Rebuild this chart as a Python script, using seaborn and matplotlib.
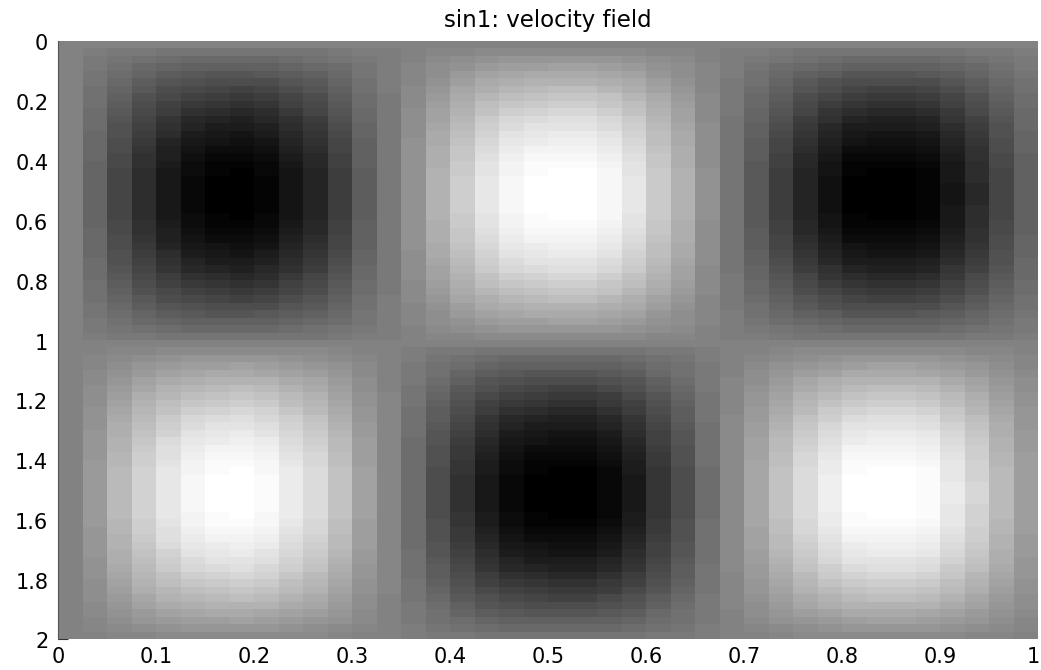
import matplotlib
matplotlib.use("Agg")

import matplotlib.pyplot as plt
import matplotlib.transforms as mtransforms
import numpy as np
import seaborn as sns

# levels: +1 is black, -1 is white in the top half
# across the columns, read along the row through the darkest blobs
column_levels = [
    0.00, 0.20, 0.45, 0.64, 0.80, 0.92, 0.98, 1.00, 0.95, 0.83,
    0.71, 0.52, 0.26, 0.06, -0.15, -0.39, -0.60, -0.79, -0.92, -0.98,
    -1.00, -1.00, -0.93, -0.79, -0.58, -0.39, -0.13, 0.09, 0.30, 0.52,
    0.71, 0.86, 0.98, 1.00, 1.00, 0.96, 0.82, 0.66, 0.45, 0.24,
]
# down the rows, read along the column through the same blob
row_levels = [
    0.00, 0.09, 0.17, 0.25, 0.32, 0.40, 0.47, 0.54, 0.60, 0.66,
    0.72, 0.77, 0.82, 0.86, 0.90, 0.93, 0.96, 0.98, 0.99, 1.00,
    1.00, 1.00, 0.99, 0.98, 0.96, 0.93, 0.90, 0.86, 0.82, 0.77,
    0.72, 0.66, 0.60, 0.54, 0.47, 0.40, 0.32, 0.25, 0.17, 0.09,
    0.00, -0.09, -0.17, -0.25, -0.32, -0.40, -0.47, -0.54, -0.60, -0.66,
    -0.72, -0.77, -0.82, -0.86, -0.90, -0.93, -0.96, -0.98, -0.99, -1.00,
    -1.00, -1.00, -0.99, -0.98, -0.96, -0.93, -0.90, -0.86, -0.82, -0.77,
    -0.72, -0.66, -0.60, -0.54, -0.47, -0.40, -0.32, -0.25, -0.17, -0.09,
]
x_tick_labels = ["0", "0.1", "0.2", "0.3", "0.4", "0.5", "0.6", "0.7", "0.8", "0.9", "1"]
y_tick_labels = ["0", "0.2", "0.4", "0.6", "0.8", "1", "1.2", "1.4", "1.6", "1.8", "2"]

plt.rcParams["font.family"] = ["DejaVu Sans"]

field = -np.outer(row_levels, column_levels)

fig = plt.figure(figsize=(10.41, 6.70), dpi=100)
ax = fig.add_axes([58 / 1041, 1 - 639 / 670, 980 / 1041, 598 / 670])

sns.heatmap(field, ax=ax, cmap=plt.get_cmap("gray", 64), vmin=-1, vmax=1, cbar=False)

ax.set_xticks(np.arange(len(x_tick_labels)) * 4)
ax.set_xticklabels(x_tick_labels, rotation=0)
ax.set_yticks(np.arange(len(y_tick_labels)) * 8)
ax.set_yticklabels(y_tick_labels, rotation=0)
ax.tick_params(axis="x", length=0, labelsize=15, colors="black", pad=6)
ax.tick_params(axis="y", direction="in", length=7, width=0.8, color="#333333", labelsize=15, labelcolor="black", pad=7)

# only the tick on the bottom edge shows, the image hides the rest
for tick in ax.yaxis.get_major_ticks()[:-1]:
    tick.tick1line.set_visible(False)

# y labels sit a little under their ticks
shift_down = mtransforms.ScaledTranslation(0, -3.5 / 100, fig.dpi_scale_trans)
for label in ax.get_yticklabels():
    label.set_transform(label.get_transform() + shift_down)

# last x label would run off the canvas, keep it inside
last_label = ax.get_xticklabels()[-1]
last_label.set_ha("right")
last_label.set_transform(last_label.get_transform() + mtransforms.ScaledTranslation(2 / 100, 0, fig.dpi_scale_trans))

for side in ["top", "right", "bottom"]:
    ax.spines[side].set_visible(False)
ax.spines["left"].set_visible(True)
ax.spines["left"].set_color("#555555")
ax.spines["left"].set_linewidth(0.8)

ax.set_title("sin1: velocity field", fontsize=16.5, pad=10)

fig.savefig("out.png", dpi=100)
